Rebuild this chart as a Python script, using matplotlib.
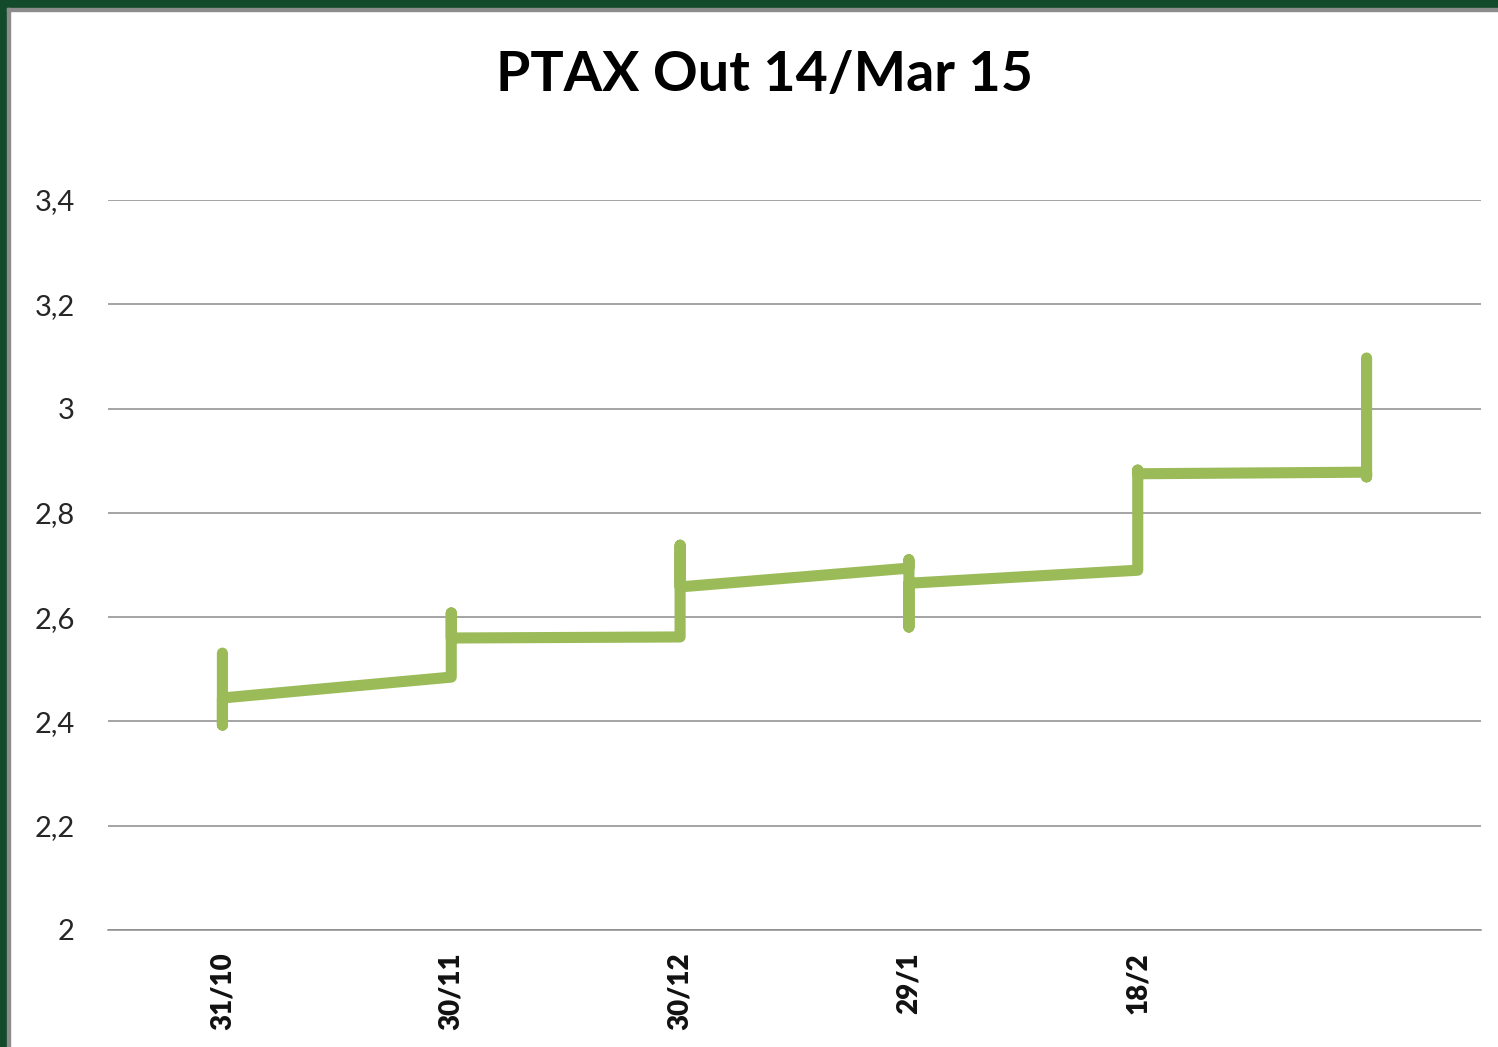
import matplotlib
matplotlib.use("Agg")
import matplotlib.pyplot as plt
from matplotlib.patches import Rectangle

# Category labels (last category has no label)
categories = ["31/10", "30/11", "30/12", "29/1", "18/2", ""]

# Path of the line: category index and value
path_x = [0, 0, 0, 1, 1, 1, 2, 2, 2, 3, 3, 3, 3, 4, 4, 4, 5, 5, 5]
path_y = [2.531, 2.393, 2.445, 2.485, 2.608, 2.560, 2.562, 2.738, 2.658,
          2.694, 2.710, 2.581, 2.665, 2.690, 2.882, 2.875, 2.878, 2.869, 3.097]

y_ticks = [2.0, 2.2, 2.4, 2.6, 2.8, 3.0, 3.2, 3.4]
y_tick_labels = ["2", "2,2", "2,4", "2,6", "2,8", "3", "3,2", "3,4"]

W, H = 1498, 1047
fig = plt.figure(figsize=(W / 100, H / 100), dpi=100)
fig.patch.set_facecolor("white")

# frame: dark green outer border (left and top) with gray inner line
green = "#134a2c"
gray = "#8c8c8c"
fig.patches.append(Rectangle((0, 0), 7 / W, 1, transform=fig.transFigure, color=green, zorder=0))
fig.patches.append(Rectangle((0, 1 - 8 / H), 1, 8 / H, transform=fig.transFigure, color=green, zorder=0))
fig.patches.append(Rectangle((7 / W, 0), 3 / W, 1 - 8 / H, transform=fig.transFigure, color=gray, zorder=0))
fig.patches.append(Rectangle((7 / W, 1 - 11 / H), 1, 3 / H, transform=fig.transFigure, color=gray, zorder=0))

ax = fig.add_axes([108 / W, 1 - 930 / H, (1481 - 108) / W, (930 - 200) / H])
ax.set_facecolor("none")

ax.plot(path_x, path_y, color="#9bbb59", linewidth=8.0,
        solid_capstyle="round", solid_joinstyle="round", zorder=3)

ax.set_xlim(-0.5, len(categories) - 0.5)
ax.set_ylim(2.0, 3.4)

ax.set_yticks(y_ticks)
ax.set_yticklabels(y_tick_labels, fontsize=21, color="#262626", family="Lato")
ax.yaxis.grid(True, color="#8c8c8c", linewidth=1.1)
ax.set_axisbelow(True)
ax.tick_params(axis="y", length=0, pad=24)

ax.set_xticks(range(len(categories)))
ax.set_xticklabels(categories, rotation=90, fontsize=20, fontweight="heavy",
                   family="Lato", color="#111111", va="top")
ax.tick_params(axis="x", length=0, pad=16)

for s in ["top", "right", "left"]:
    ax.spines[s].set_visible(False)
ax.spines["bottom"].set_color("#8c8c8c")
ax.spines["bottom"].set_linewidth(1.1)

fig.text(764 / W, 1 - 75 / H, "PTAX Out 14/Mar 15", ha="center", va="center",
         fontsize=40, fontweight="bold", family="Lato", color="black")

fig.savefig("out.png", dpi=100)
